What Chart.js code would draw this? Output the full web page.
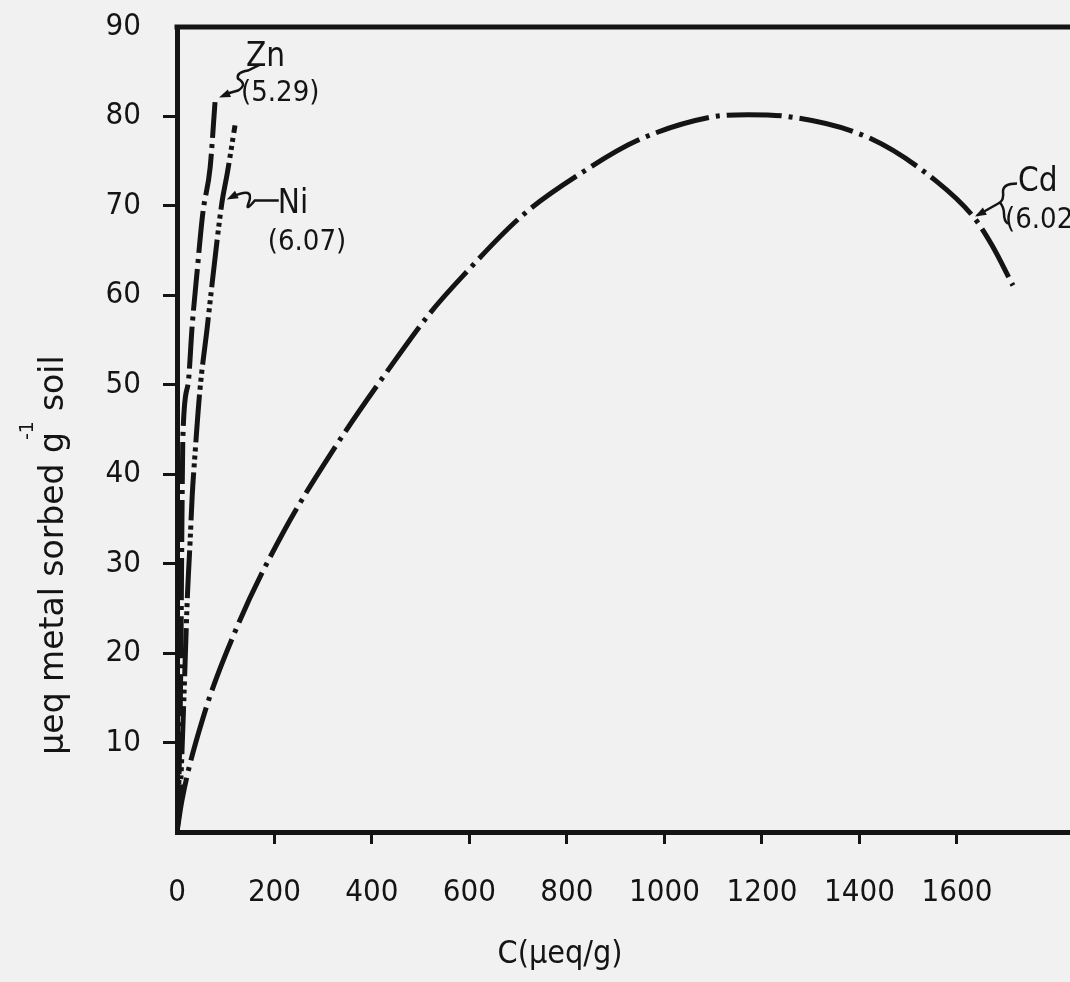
<!DOCTYPE html>
<html>
<head>
<meta charset="utf-8">
<script src="https://cdn.jsdelivr.net/npm/chart.js@4"></script>
<style>
  html, body { margin: 0; padding: 0; background: #f1f1f1; }
</style>
</head>
<body>
<canvas id="chart" width="1070" height="982"></canvas>
<script>
const xTicks = [0, 200, 400, 600, 800, 1000, 1200, 1400, 1600]
const yTicks = [0, 10, 20, 30, 40, 50, 60, 70, 80, 90]

// Cd (pH 6.02)
const cdX = [0, 10, 53, 123, 217, 324, 443, 519, 587, 710, 833, 944, 1093, 1171, 1251, 1424, 1557, 1635, 1672, 1715]
const cdY = [0, 3.5, 12.7, 22.9, 33.4, 43.0, 52.4, 58.0, 62.2, 69.0, 73.8, 77.3, 79.9, 80.2, 80.0, 77.5, 72.8, 68.7, 65.6, 61.1]

// Zn (pH 5.29)
const znX = [0, 4, 8, 10, 12, 23, 31, 41, 53, 68, 78]
const znY = [0, 5.8, 20, 34, 44, 50.2, 56.5, 62.5, 69.2, 74.3, 81.6]

// Ni (pH 6.07)
const niX = [0, 6, 14, 21, 27, 31, 37, 47, 62, 72, 92, 103, 119]
const niY = [0, 3.6, 14.7, 25.9, 32.6, 37.4, 42.3, 49.4, 56.4, 61.3, 70.3, 73.6, 79.0]

const seriesNames = ['Zn', 'Ni', 'Cd']
const seriesPH = ['(5.29)', '(6.07)', '(6.02)']
const labelAt = [[80, 82.0], [98, 70.6], [1633, 68.7]]

const ink = '#141414'
const font = '"DejaVu Sans Condensed", "Liberation Sans", sans-serif'

function pts(xs, ys) {
  return xs.map((x, i) => ({ x, y: ys[i] }))
}

function line(label, xs, ys, dash) {
  return {
    label,
    data: pts(xs, ys),
    showLine: true,
    borderColor: ink,
    borderWidth: 5,
    borderDash: dash,
    borderCapStyle: 'butt',
    cubicInterpolationMode: 'monotone',
    pointRadius: 0,
    fill: false
  }
}

function hideEnds(ctx) {
  const v = ctx.tick && ctx.tick.value
  return (v === 0 || v === 90) ? 'rgba(0,0,0,0)' : ink
}

function arrowHead(ctx, x0, y0, x1, y1) {
  const a = Math.atan2(y1 - y0, x1 - x0)
  ctx.beginPath()
  ctx.moveTo(x1, y1)
  ctx.lineTo(x1 - 12 * Math.cos(a - 0.35), y1 - 12 * Math.sin(a - 0.35))
  ctx.lineTo(x1 - 12 * Math.cos(a + 0.35), y1 - 12 * Math.sin(a + 0.35))
  ctx.closePath()
  ctx.fill()
}

const notes = {
  id: 'notes',
  beforeDraw(chart) {
    const ctx = chart.ctx
    ctx.save()
    ctx.fillStyle = '#f1f1f1'
    ctx.fillRect(0, 0, chart.width, chart.height)
    ctx.restore()
  },
  afterDraw(chart) {
    const { ctx, chartArea, scales: { x, y } } = chart
    ctx.save()
    ctx.strokeStyle = ink
    ctx.fillStyle = ink

    // top of the frame
    ctx.lineWidth = 5
    ctx.beginPath()
    ctx.moveTo(chartArea.left - 2.5, chartArea.top)
    ctx.lineTo(chartArea.right, chartArea.top)
    ctx.stroke()

    // axis titles
    ctx.font = '32px ' + font
    ctx.textAlign = 'center'
    ctx.textBaseline = 'middle'
    ctx.fillText('C(\u03bceq/g)', 560, 955)

    ctx.save()
    ctx.translate(54, 555)
    ctx.rotate(-Math.PI / 2)
    const a = '\u03bceq metal sorbed g'
    const b = '  soil'
    ctx.font = '33px "DejaVu Sans", sans-serif'
    const wa = ctx.measureText(a).width
    const wb = ctx.measureText(b).width
    const start = -(wa + wb) / 2
    ctx.textAlign = 'left'
    ctx.fillText(a, start, 0)
    ctx.fillText(b, start + wa, 0)
    ctx.font = '19px "DejaVu Sans", sans-serif'
    ctx.fillText('-1', start + wa - 8, -26)
    ctx.restore()

    // series labels with leaders
    ctx.lineWidth = 2.5
    ctx.textAlign = 'left'
    ctx.textBaseline = 'alphabetic'
    const tips = labelAt.map(p => [x.getPixelForValue(p[0]), y.getPixelForValue(p[1])])

    // Zn
    let [tx, ty] = tips[0]
    ctx.beginPath()
    ctx.moveTo(tx + 8, ty - 4)
    ctx.lineTo(tx + 22, ty - 8)
    ctx.quadraticCurveTo(tx + 32, ty - 14, tx + 22, ty - 20)
    ctx.quadraticCurveTo(tx + 20, ty - 26, tx + 32, ty - 28)
    ctx.lineTo(tx + 44, ty - 34)
    ctx.stroke()
    arrowHead(ctx, tx + 20, ty - 8, tx + 3, ty - 1)
    ctx.font = '33px ' + font
    ctx.fillText(seriesNames[0], tx + 30, ty - 33)
    ctx.font = '29px ' + font
    ctx.fillText(seriesPH[0], tx + 25, ty + 2)

    // Ni
    ;[tx, ty] = tips[1]
    ctx.beginPath()
    ctx.moveTo(tx + 8, ty - 4)
    ctx.quadraticCurveTo(tx + 30, ty - 14, tx + 24, ty + 2)
    ctx.quadraticCurveTo(tx + 20, ty + 12, tx + 30, ty)
    ctx.lineTo(tx + 54, ty)
    ctx.stroke()
    arrowHead(ctx, tx + 16, ty - 8, tx + 2, ty - 1)
    ctx.font = '33px ' + font
    ctx.fillText(seriesNames[1], tx + 53, ty + 12)
    ctx.font = '29px ' + font
    ctx.fillText(seriesPH[1], tx + 43, ty + 49)

    // Cd
    ;[tx, ty] = tips[2]
    ctx.beginPath()
    ctx.moveTo(tx + 4, ty - 2)
    ctx.lineTo(tx + 27, ty - 15)
    ctx.stroke()
    ctx.beginPath()
    ctx.moveTo(tx + 44, ty - 34)
    ctx.quadraticCurveTo(tx + 30, ty - 34, tx + 30, ty - 26)
    ctx.quadraticCurveTo(tx + 31, ty - 18, tx + 27, ty - 15)
    ctx.quadraticCurveTo(tx + 31, ty - 10, tx + 31, ty - 4)
    ctx.quadraticCurveTo(tx + 31, ty + 4, tx + 35, ty + 6)
    ctx.stroke()
    arrowHead(ctx, tx + 20, ty - 11, tx + 2, ty - 1)
    ctx.font = '33px ' + font
    ctx.fillText(seriesNames[2], tx + 45, ty - 27)
    ctx.font = '29px ' + font
    ctx.fillText(seriesPH[2], tx + 32, ty + 10)

    ctx.restore()
  }
}

new Chart(document.getElementById('chart'), {
  type: 'scatter',
  data: {
    datasets: [
      line('Zn', znX, znY, [42, 6, 4, 6]),
      line('Ni', niX, niY, [48, 5, 4, 4, 4, 4, 4, 5]),
      line('Cd', cdX, cdY, [55, 7, 4, 7])
    ]
  },
  options: {
    responsive: false,
    animation: false,
    layout: { padding: { top: 27, left: 0, right: 0, bottom: 0 } },
    plugins: {
      legend: { display: false },
      tooltip: { enabled: false }
    },
    scales: {
      x: {
        type: 'linear',
        min: 0,
        max: 1832,
        afterBuildTicks: s => { s.ticks = xTicks.map(value => ({ value })) },
        afterFit: s => { s.height = 150; s.paddingLeft = 0; s.paddingRight = 0 },
        border: { display: true, color: ink, width: 5 },
        grid: { drawOnChartArea: false, tickLength: 12, tickWidth: 3, tickColor: hideEnds },
        ticks: { color: ink, padding: 30, maxRotation: 0, callback: v => String(v), font: { family: font, size: 31 } }
      },
      y: {
        type: 'linear',
        min: 0,
        max: 90,
        afterBuildTicks: s => { s.ticks = yTicks.filter(v => v > 0).map(value => ({ value })) },
        afterFit: s => { s.width = 177; s.paddingTop = 0; s.paddingBottom = 0 },
        border: { display: true, color: ink, width: 5 },
        grid: { drawOnChartArea: false, tickLength: 14, tickWidth: 3, tickColor: hideEnds },
        ticks: { color: ink, padding: 22, callback: v => String(v), font: { family: font, size: 31 } }
      }
    }
  },
  plugins: [notes]
})
</script>
</body>
</html>
